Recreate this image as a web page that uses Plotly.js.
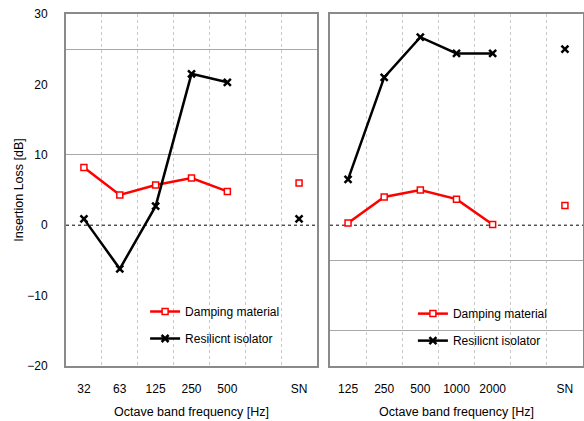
<!DOCTYPE html>
<html>
<head>
<meta charset="utf-8">
<script src="https://cdn.plot.ly/plotly-3.0.1.min.js"></script>
<style>html,body{margin:0;padding:0;background:#fff;}#chart{width:584px;height:421px;}</style>
</head>
<body>
<div id="chart"></div>
<script>
// Left panel
const leftCats = ['32', '63', '125', '250', '500', '', 'SN'];
const leftDamping = [8.2, 4.3, 5.7, 6.7, 4.8, null, 6.0];
const leftResilient = [0.9, -6.2, 2.7, 21.5, 20.3, null, 0.9];
// Right panel
const rightCats = ['125', '250', '500', '1000', '2000', '', 'SN'];
const rightDamping = [0.3, 4.0, 5.0, 3.7, 0.1, null, 2.8];
const rightResilient = [6.5, 21.0, 26.7, 24.4, 24.4, null, 25.0];

const seriesNames = ['Damping material', 'Resilicnt isolator'];
const yTicks = [-20, -10, 0, 10, 20, 30];

const idx = leftCats.map((c, i) => i);
function tv(cats) { return cats.map((c, i) => i).filter(i => cats[i] !== ''); }
function tt(cats) { return cats.filter(c => c !== ''); }

const red = '#ff0000';
const blk = '#000000';
const dampMarker = {symbol: 'square', size: 6, color: '#ffffff', line: {color: red, width: 1.5}};
const resMarker = {symbol: 'x-thin', size: 7, color: blk, line: {color: blk, width: 2.5}};

const traces = [
  {x: idx, y: leftDamping, xaxis: 'x', yaxis: 'y', mode: 'lines+markers', name: seriesNames[0],
   line: {color: red, width: 2.5}, marker: dampMarker, legend: 'legend', legendgroup: 'a', connectgaps: false},
  {x: idx, y: leftResilient, xaxis: 'x', yaxis: 'y', mode: 'lines+markers', name: seriesNames[1],
   line: {color: blk, width: 2.5}, marker: resMarker, legend: 'legend', legendgroup: 'b', connectgaps: false},
  {x: idx, y: rightDamping, xaxis: 'x2', yaxis: 'y2', mode: 'lines+markers', name: seriesNames[0],
   line: {color: red, width: 2.5}, marker: dampMarker, legend: 'legend2', legendgroup: 'c', connectgaps: false},
  {x: idx, y: rightResilient, xaxis: 'x2', yaxis: 'y2', mode: 'lines+markers', name: seriesNames[1],
   line: {color: blk, width: 2.5}, marker: resMarker, legend: 'legend2', legendgroup: 'd', connectgaps: false}
];

const font = {family: 'Liberation Sans, Arial, sans-serif', size: 12, color: '#000'};
const boundaries = [0.5, 1.5, 2.5, 3.5, 4.5, 5.5];
const borderColor = '#8a8a8a';

function xax(cats, domain, anchor) {
  return {
    domain: domain, anchor: anchor, range: [-0.5, 6.5], tickmode: 'array',
    tickvals: tv(cats), ticktext: tt(cats), showgrid: false, zeroline: false,
    showline: true, mirror: true, linecolor: borderColor, linewidth: 2,
    ticks: '', ticklabelstandoff: 11, tickfont: font,
    minor: {tickvals: boundaries, showgrid: true, gridcolor: '#c8c8c8', gridwidth: 1, griddash: 'dot', ticks: ''},
    title: {text: 'Octave band frequency [Hz]', font: {family: font.family, size: 12.5, color: '#000'}, standoff: 12},
    fixedrange: true
  };
}
function yax(anchor, gridVals, showLabels) {
  return {
    anchor: anchor, range: [-20, 30], tickmode: 'array', tickvals: yTicks,
    showticklabels: showLabels, showgrid: false, zeroline: false,
    showline: true, mirror: true, linecolor: borderColor, linewidth: 2,
    ticks: '', ticklabelstandoff: 14, tickfont: font,
    minor: {tickvals: gridVals, showgrid: true, gridcolor: '#a8a8a8', gridwidth: 1, ticks: ''},
    title: showLabels ? {text: 'Insertion Loss [dB]', font: {family: font.family, size: 12.5, color: '#000'}, standoff: 1} : {text: ''},
    fixedrange: true
  };
}

const legendCommon = {
  font: font, bgcolor: 'rgba(0,0,0,0)', borderwidth: 0, traceorder: 'grouped',
  tracegroupgap: 8, itemwidth: 30, xanchor: 'left', yanchor: 'top'
};

const layout = {
  width: 584, height: 421,
  margin: {l: 66, r: 1, t: 14, b: 55},
  paper_bgcolor: '#fff', plot_bgcolor: '#fff',
  font: font,
  xaxis: xax(leftCats, [0, 0.4855], 'y'),
  yaxis: yax('x', [10, 25], true),
  xaxis2: xax(rightCats, [0.5106, 1], 'y2'),
  yaxis2: yax('x2', [-15, -5], false),
  legend: Object.assign({x: 0.153, y: 0.196}, legendCommon),
  legend2: Object.assign({x: 0.671, y: 0.19}, legendCommon),
  shapes: [
    {type: 'line', xref: 'x domain', yref: 'y', x0: 0, x1: 1, y0: 0, y1: 0, line: {color: '#000', width: 1, dash: 'dot'}, layer: 'below'},
    {type: 'line', xref: 'x2 domain', yref: 'y2', x0: 0, x1: 1, y0: 0, y1: 0, line: {color: '#000', width: 1, dash: 'dot'}, layer: 'below'}
  ],
  showlegend: true
};

Plotly.newPlot('chart', traces, layout, {displayModeBar: false, staticPlot: true});
</script>
</body>
</html>
